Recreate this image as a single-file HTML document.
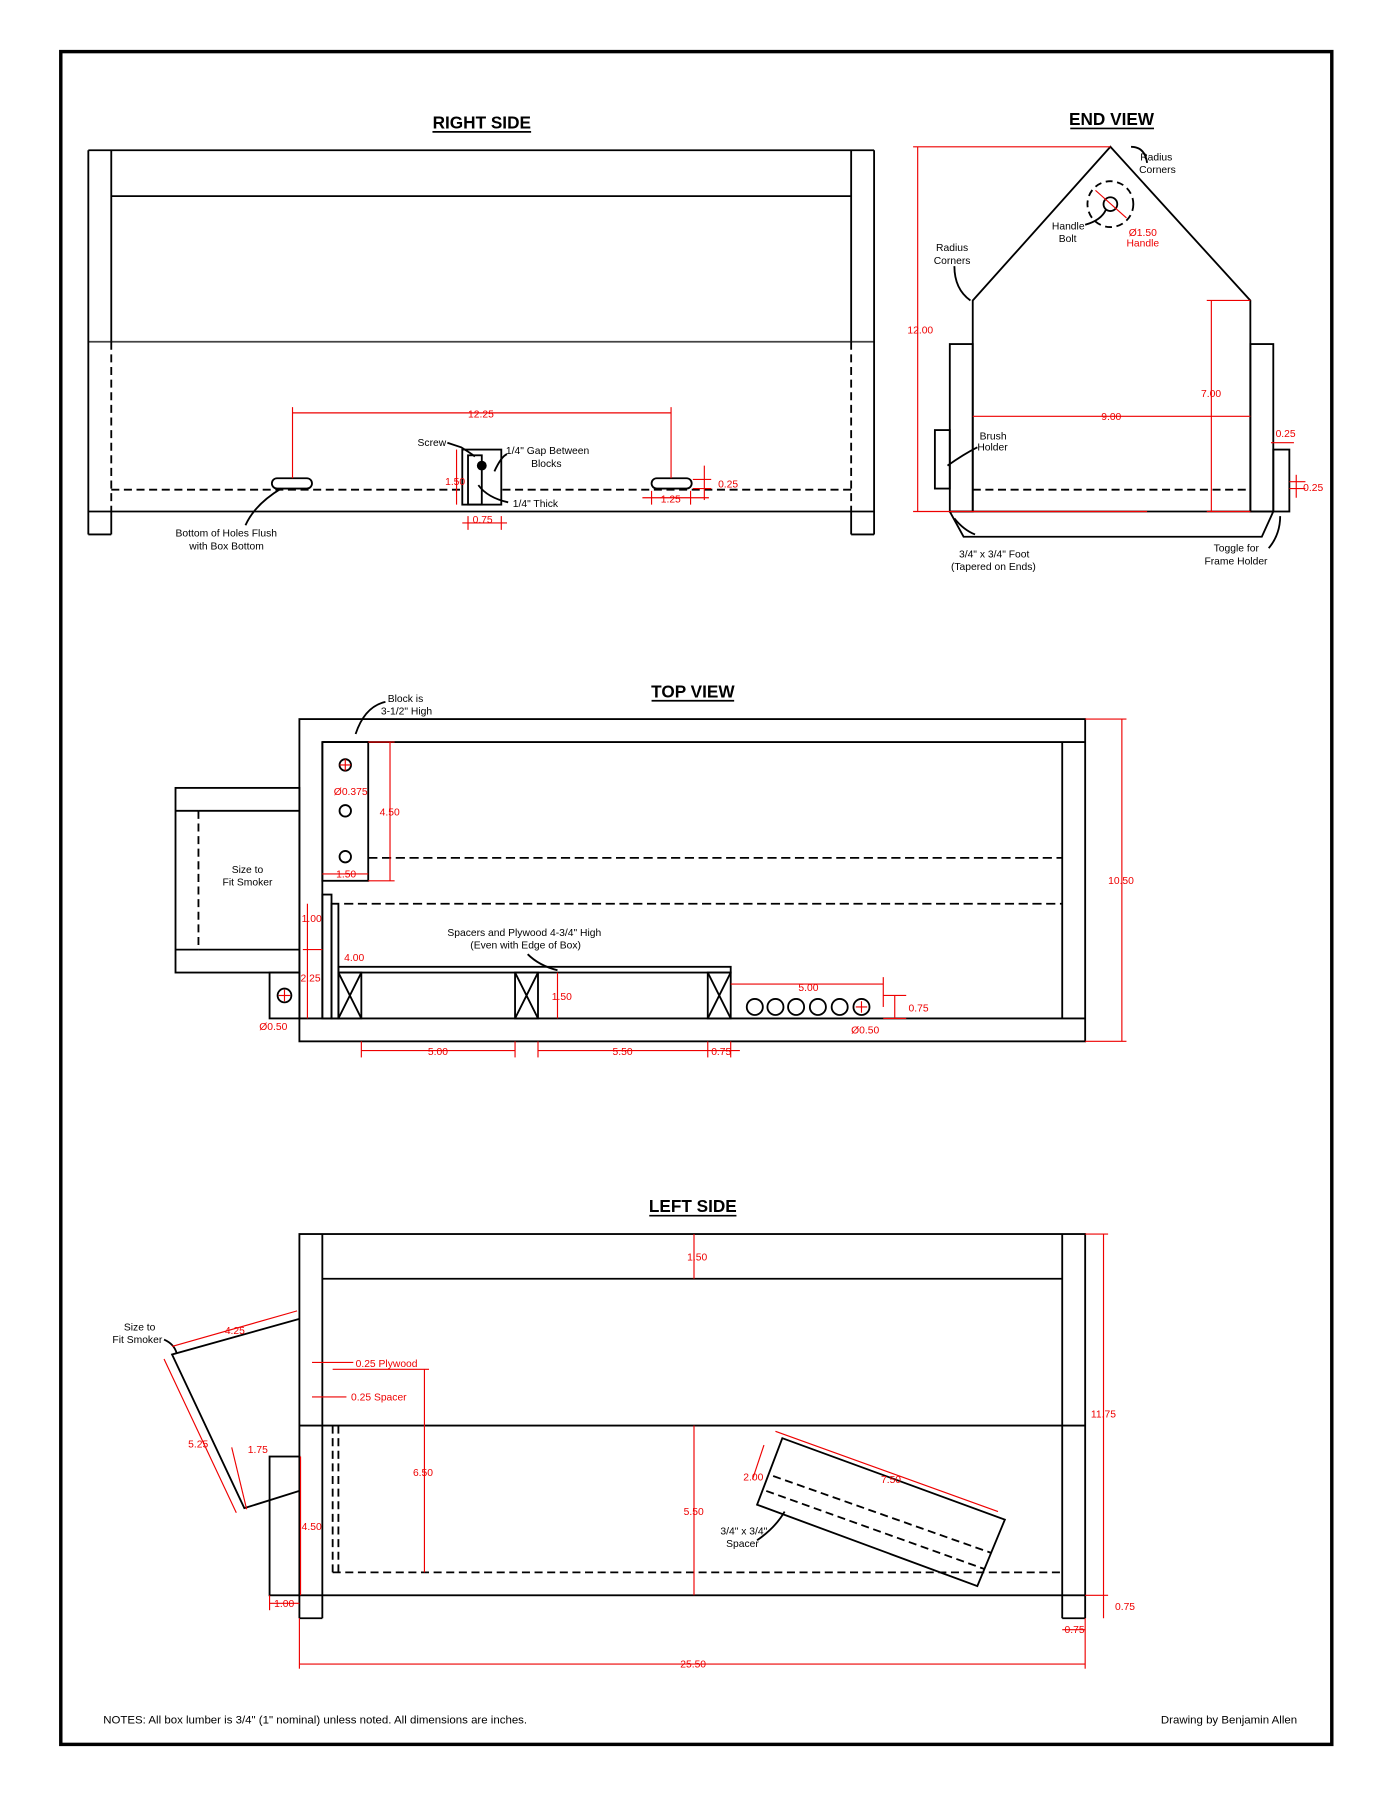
<!DOCTYPE html>
<html><head><meta charset="utf-8"><style>
html,body{margin:0;padding:0;background:#fff}
svg{display:block}
text{font-family:"Liberation Sans",Arial,sans-serif;font-size:9px;fill:#000}
.r{fill:#e00}
.t{font-size:15px;font-weight:bold;text-anchor:middle}
</style></head><body>
<svg width="1388" height="1796" viewBox="0 0 1210 1566" preserveAspectRatio="none" xmlns="http://www.w3.org/2000/svg">
<g fill="none" stroke="#000" stroke-width="1.6">
<rect x="53" y="45" width="1108" height="1476" stroke-width="3"/>
<!-- RIGHT SIDE -->
<line x1="77" y1="131" x2="762" y2="131"/>
<line x1="97" y1="171" x2="742" y2="171"/>
<line x1="77" y1="298" x2="762" y2="298" stroke="#444"/>
<line x1="77" y1="446" x2="762" y2="446"/>
<line x1="77" y1="131" x2="77" y2="466"/><line x1="77" y1="466" x2="97" y2="466"/>
<line x1="97" y1="131" x2="97" y2="298"/><line x1="97" y1="446" x2="97" y2="466"/>
<line x1="762" y1="131" x2="762" y2="466"/><line x1="742" y1="466" x2="762" y2="466"/>
<line x1="742" y1="131" x2="742" y2="298"/><line x1="742" y1="446" x2="742" y2="466"/>
<g stroke-dasharray="7,4"><line x1="97" y1="298" x2="97" y2="446"/><line x1="742" y1="298" x2="742" y2="446"/><line x1="97" y1="427" x2="742" y2="427"/></g>
<rect x="237" y="417" width="35" height="9" rx="4.5" fill="#fff"/>
<rect x="568" y="417" width="35" height="9" rx="4.5" fill="#fff"/>
<rect x="403" y="392" width="34" height="48" fill="#fff"/>
<rect x="408" y="397" width="12" height="43"/>
<circle cx="420" cy="406" r="3.5" fill="#000"/>
<path d="M245 426 Q222 440 214 458"/><path d="M390 386 L402 390 Q410 395 414 398"/><path d="M431 411 Q437 398 442 396"/><path d="M417 423 Q425 434 443 438"/>
<!-- END VIEW -->
<polyline points="848,446 848,262 968,128 1090,262 1090,446"/>
<rect x="828" y="300" width="20" height="146"/><rect x="1090" y="300" width="20" height="146"/>
<rect x="815" y="375" width="13" height="51"/><rect x="1110" y="392" width="14" height="54"/>
<line x1="828" y1="446" x2="1110" y2="446"/>
<polyline points="828,446 840,468 1100,468 1110,446"/>
<line x1="848" y1="427" x2="1090" y2="427" stroke-dasharray="7,4"/>
<circle cx="968" cy="178" r="20" stroke-dasharray="6,4"/><circle cx="968" cy="178" r="6"/>
<path d="M986 128 Q998 128 1000 142"/><path d="M832 232 Q832 252 846 262"/><path d="M946 196 Q960 192 964 183"/><path d="M852 390 Q840 396 826 406"/><path d="M832 452 Q840 462 850 466"/><path d="M1106 478 Q1116 466 1116 450"/>
<!-- TOP VIEW -->
<rect x="261" y="627" width="685" height="281"/>
<line x1="281" y1="647" x2="946" y2="647"/><line x1="261" y1="888" x2="946" y2="888"/>
<line x1="926" y1="647" x2="926" y2="888"/><line x1="281" y1="647" x2="281" y2="888"/>
<rect x="281" y="647" width="40" height="121"/>
<g stroke-dasharray="8,4"><line x1="321" y1="748" x2="926" y2="748"/><line x1="300" y1="788" x2="926" y2="788"/></g>
<rect x="153" y="687" width="108" height="161"/>
<line x1="173" y1="707" x2="261" y2="707"/><line x1="173" y1="828" x2="261" y2="828"/>
<line x1="173" y1="707" x2="173" y2="828" stroke-dasharray="7,4"/>
<line x1="153" y1="707" x2="173" y2="707"/><line x1="153" y1="828" x2="173" y2="828"/>
<rect x="235" y="848" width="26" height="40"/><circle cx="248" cy="868" r="6"/>
<rect x="281" y="780" width="8" height="108"/><rect x="289" y="788" width="6" height="100"/>
<rect x="295" y="843" width="342" height="5"/>
<rect x="295" y="848" width="20" height="40"/><path d="M295 848 L315 888 M315 848 L295 888"/>
<rect x="449" y="848" width="20" height="40"/><path d="M449 848 L469 888 M469 848 L449 888"/>
<rect x="617" y="848" width="20" height="40"/><path d="M617 848 L637 888 M637 848 L617 888"/>
<circle cx="301" cy="667" r="5"/><circle cx="301" cy="707" r="5"/><circle cx="301" cy="747" r="5"/>
<circle cx="658" cy="878" r="7"/><circle cx="676" cy="878" r="7"/><circle cx="694" cy="878" r="7"/><circle cx="713" cy="878" r="7"/><circle cx="732" cy="878" r="7"/><circle cx="751" cy="878" r="7"/>
<path d="M336 612 Q318 616 310 640"/><path d="M460 832 Q470 842 486 846"/>
<!-- LEFT SIDE -->
<rect x="261" y="1076" width="685" height="315"/>
<line x1="281" y1="1076" x2="281" y2="1411"/><line x1="261" y1="1391" x2="261" y2="1411"/><line x1="261" y1="1411" x2="281" y2="1411"/>
<line x1="926" y1="1076" x2="926" y2="1411"/><line x1="946" y1="1391" x2="946" y2="1411"/><line x1="926" y1="1411" x2="946" y2="1411"/>
<line x1="281" y1="1115" x2="926" y2="1115"/><line x1="261" y1="1243" x2="946" y2="1243"/>
<g stroke-dasharray="7,4"><line x1="290" y1="1371" x2="926" y2="1371"/><line x1="290" y1="1243" x2="290" y2="1371"/><line x1="295" y1="1243" x2="295" y2="1371"/></g>
<polyline points="261,1150 150,1181 213,1315 261,1300"/>
<rect x="235" y="1270" width="26" height="121"/>
<polygon points="682,1254 876,1325 852,1383 660,1312"/>
<g stroke-dasharray="7,4"><line x1="674" y1="1287" x2="864" y2="1354"/><line x1="668" y1="1300" x2="858" y2="1368"/></g>
<path d="M143 1168 Q152 1172 154 1180"/><path d="M660 1343 Q676 1332 684 1318"/>
</g>
<g stroke="#e00" stroke-width="1" fill="none">
<!-- right side dims -->
<line x1="255" y1="360" x2="585" y2="360"/><line x1="255" y1="355" x2="255" y2="417"/><line x1="585" y1="355" x2="585" y2="417"/>
<line x1="398" y1="392" x2="398" y2="440"/><line x1="408" y1="450" x2="408" y2="462"/><line x1="437" y1="450" x2="437" y2="462"/><line x1="403" y1="456" x2="442" y2="456"/>
<line x1="560" y1="434" x2="618" y2="434"/><line x1="568" y1="428" x2="568" y2="440"/><line x1="602" y1="428" x2="602" y2="440"/>
<line x1="614" y1="406" x2="614" y2="436"/><line x1="604" y1="418" x2="620" y2="418"/><line x1="604" y1="426" x2="620" y2="426"/>
<!-- end view -->
<line x1="796" y1="128" x2="968" y2="128"/><line x1="800" y1="128" x2="800" y2="446"/><line x1="796" y1="446" x2="1000" y2="446"/>
<line x1="1052" y1="262" x2="1090" y2="262"/><line x1="1056" y1="262" x2="1056" y2="446"/><line x1="1052" y1="446" x2="1090" y2="446"/>
<line x1="848" y1="363" x2="1090" y2="363"/>
<line x1="955" y1="166" x2="982" y2="190"/>
<line x1="1108" y1="386" x2="1128" y2="386"/><line x1="1130" y1="414" x2="1130" y2="434"/><line x1="1124" y1="420" x2="1138" y2="420"/><line x1="1124" y1="426" x2="1138" y2="426"/>
<!-- top view dims -->
<line x1="946" y1="627" x2="982" y2="627"/><line x1="946" y1="908" x2="982" y2="908"/><line x1="978" y1="627" x2="978" y2="908"/>
<line x1="315" y1="916" x2="449" y2="916"/><line x1="469" y1="916" x2="617" y2="916"/><line x1="617" y1="916" x2="645" y2="916"/>
<line x1="315" y1="908" x2="315" y2="922"/><line x1="449" y1="908" x2="449" y2="922"/><line x1="469" y1="908" x2="469" y2="922"/><line x1="617" y1="908" x2="617" y2="922"/><line x1="637" y1="908" x2="637" y2="922"/>
<line x1="637" y1="858" x2="770" y2="858"/><line x1="770" y1="852" x2="770" y2="878"/>
<line x1="780" y1="868" x2="780" y2="888"/><line x1="770" y1="868" x2="790" y2="868"/><line x1="770" y1="888" x2="790" y2="888"/>
<line x1="340" y1="647" x2="340" y2="768"/><line x1="321" y1="647" x2="344" y2="647"/><line x1="321" y1="768" x2="344" y2="768"/>
<line x1="281" y1="762" x2="321" y2="762"/>
<line x1="268" y1="788" x2="268" y2="888"/><line x1="264" y1="828" x2="281" y2="828"/>
<line x1="486" y1="848" x2="486" y2="888"/>
<line x1="301" y1="662" x2="301" y2="672"/><line x1="296" y1="667" x2="306" y2="667"/>
<line x1="751" y1="873" x2="751" y2="883"/><line x1="746" y1="878" x2="756" y2="878"/>
<line x1="248" y1="863" x2="248" y2="873"/><line x1="243" y1="868" x2="253" y2="868"/>
<!-- left side dims -->
<line x1="946" y1="1076" x2="966" y2="1076"/><line x1="962" y1="1076" x2="962" y2="1391"/><line x1="946" y1="1391" x2="966" y2="1391"/><line x1="962" y1="1391" x2="962" y2="1411"/>
<line x1="261" y1="1411" x2="261" y2="1455"/><line x1="946" y1="1411" x2="946" y2="1455"/><line x1="261" y1="1451" x2="946" y2="1451"/>
<line x1="926" y1="1421" x2="946" y2="1421"/>
<line x1="605" y1="1076" x2="605" y2="1115"/><line x1="605" y1="1243" x2="605" y2="1391"/>
<line x1="370" y1="1194" x2="370" y2="1371"/><line x1="290" y1="1194" x2="374" y2="1194"/>
<line x1="272" y1="1188" x2="308" y2="1188"/><line x1="272" y1="1218" x2="302" y2="1218"/>
<line x1="262" y1="1270" x2="262" y2="1391"/><line x1="235" y1="1398" x2="261" y2="1398"/><line x1="235" y1="1391" x2="235" y2="1404"/>
<line x1="150" y1="1174" x2="259" y2="1143"/><line x1="143" y1="1185" x2="206" y2="1319"/><line x1="202" y1="1262" x2="215" y2="1316"/>
<line x1="676" y1="1248" x2="870" y2="1318"/><line x1="666" y1="1260" x2="656" y2="1290"/>
</g>
<text class="t" x="420" y="112">RIGHT SIDE</text><line x1="377" y1="115" x2="463" y2="115" stroke="#000" stroke-width="1.5"/>
<text class="t" x="969" y="109">END VIEW</text><line x1="933" y1="112" x2="1006" y2="112" stroke="#000" stroke-width="1.5"/>
<text class="t" x="604" y="608">TOP VIEW</text><line x1="568" y1="611" x2="640" y2="611" stroke="#000" stroke-width="1.5"/>
<text class="t" x="604" y="1057">LEFT SIDE</text><line x1="566" y1="1060" x2="642" y2="1060" stroke="#000" stroke-width="1.5"/>
<text x="364" y="389">Screw</text>
<text x="441" y="396">1/4" Gap Between</text><text x="463" y="407">Blocks</text>
<text x="447" y="442">1/4" Thick</text>
<text x="153" y="468">Bottom of Holes Flush</text><text x="165" y="479">with Box Bottom</text>
<text class="r" x="408" y="364">12.25</text><text class="r" x="388" y="423">1.50</text><text class="r" x="412" y="456">0.75</text>
<text class="r" x="576" y="438">1.25</text><text class="r" x="626" y="425">0.25</text>
<text x="994" y="140">Radius</text><text x="993" y="151">Corners</text>
<text x="816" y="219">Radius</text><text x="814" y="230">Corners</text>
<text x="917" y="200">Handle</text><text x="923" y="211">Bolt</text>
<text class="r" x="984" y="206">Ø1.50</text><text class="r" x="982" y="215">Handle</text>
<text class="r" x="791" y="291">12.00</text><text class="r" x="1047" y="346">7.00</text><text class="r" x="960" y="366">9.00</text>
<text x="854" y="383">Brush</text><text x="852" y="393">Holder</text>
<text class="r" x="1112" y="381">0.25</text><text class="r" x="1136" y="428">0.25</text>
<text x="836" y="486">3/4" x 3/4" Foot</text><text x="829" y="497">(Tapered on Ends)</text>
<text x="1058" y="481">Toggle for</text><text x="1050" y="492">Frame Holder</text>
<text x="338" y="612">Block is</text><text x="332" y="623">3-1/2" High</text>
<text class="r" x="291" y="693">Ø0.375</text><text class="r" x="331" y="711">4.50</text><text class="r" x="293" y="765">1.50</text>
<text x="202" y="761">Size to</text><text x="194" y="772">Fit Smoker</text>
<text class="r" x="263" y="804">1.00</text><text class="r" x="300" y="838">4.00</text><text class="r" x="262" y="856">2.25</text>
<text x="390" y="816">Spacers and Plywood 4-3/4" High</text><text x="410" y="827">(Even with Edge of Box)</text>
<text class="r" x="481" y="872">1.50</text><text class="r" x="696" y="864">5.00</text><text class="r" x="792" y="882">0.75</text>
<text class="r" x="226" y="898">Ø0.50</text><text class="r" x="742" y="901">Ø0.50</text>
<text class="r" x="373" y="920">5.00</text><text class="r" x="534" y="920">5.50</text><text class="r" x="620" y="920">0.75</text>
<text class="r" x="966" y="771">10.50</text>
<text class="r" x="599" y="1099">1.50</text><text class="r" x="951" y="1236">11.75</text>
<text x="108" y="1160">Size to</text><text x="98" y="1171">Fit Smoker</text>
<text class="r" x="196" y="1163">4.25</text><text class="r" x="310" y="1192">0.25  Plywood</text><text class="r" x="306" y="1221">0.25  Spacer</text>
<text class="r" x="164" y="1262">5.25</text><text class="r" x="216" y="1267">1.75</text>
<text class="r" x="360" y="1287">6.50</text><text class="r" x="596" y="1321">5.50</text><text class="r" x="263" y="1334">4.50</text>
<text class="r" x="648" y="1291">2.00</text><text class="r" x="768" y="1293">7.50</text>
<text x="628" y="1338">3/4" x 3/4"</text><text x="633" y="1349">Spacer</text>
<text class="r" x="239" y="1401">1.00</text><text class="r" x="928" y="1424">0.75</text><text class="r" x="972" y="1404">0.75</text>
<text class="r" x="593" y="1454">25.50</text>
<text x="90" y="1503" style="font-size:10px">NOTES: All box lumber is 3/4" (1" nominal) unless noted.  All dimensions are inches.</text>
<text x="1012" y="1503" style="font-size:10px">Drawing by Benjamin Allen</text>
</svg>
</body></html>
